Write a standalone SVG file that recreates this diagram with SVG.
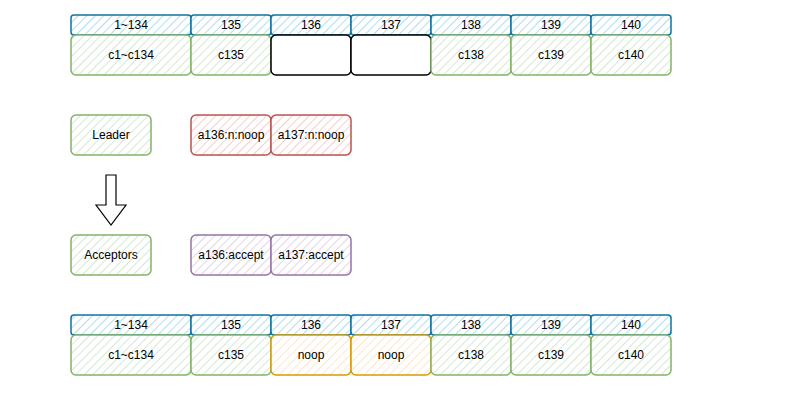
<svg xmlns="http://www.w3.org/2000/svg" width="794" height="406" viewBox="0 0 794 406">
<style>
text{font-family:"Liberation Sans",Arial,sans-serif;font-size:12px;fill:#000;text-anchor:middle;dominant-baseline:central}
rect{stroke-width:1.5}
.b{fill:url(#hb);stroke:#10739e}
.g{fill:url(#hg);stroke:#82b366}
.r{fill:url(#hr);stroke:#b85450}
.p{fill:url(#hp);stroke:#9673a6}
.o{fill:url(#ho);stroke:#d79b00}
.k{fill:#fff;stroke:#000}
</style>
<defs>
<pattern id="hb" width="6" height="6" patternUnits="userSpaceOnUse" patternTransform="rotate(45)"><rect width="6" height="6" fill="#fff" stroke="none"/><line x1="0" y1="0" x2="0" y2="6" stroke="#b1ddf0" stroke-width="2"/></pattern>
<pattern id="hg" width="6" height="6" patternUnits="userSpaceOnUse" patternTransform="rotate(45)"><rect width="6" height="6" fill="#fff" stroke="none"/><line x1="0" y1="0" x2="0" y2="6" stroke="#d5e8d4" stroke-width="2"/></pattern>
<pattern id="hr" width="6" height="6" patternUnits="userSpaceOnUse" patternTransform="rotate(45)"><rect width="6" height="6" fill="#fff" stroke="none"/><line x1="0" y1="0" x2="0" y2="6" stroke="#f8cecc" stroke-width="2"/></pattern>
<pattern id="hp" width="6" height="6" patternUnits="userSpaceOnUse" patternTransform="rotate(45)"><rect width="6" height="6" fill="#fff" stroke="none"/><line x1="0" y1="0" x2="0" y2="6" stroke="#e1d5e7" stroke-width="2"/></pattern>
<pattern id="ho" width="6" height="6" patternUnits="userSpaceOnUse" patternTransform="rotate(45)"><rect width="6" height="6" fill="#fff" stroke="none"/><line x1="0" y1="0" x2="0" y2="6" stroke="#ffe6cc" stroke-width="2"/></pattern>
</defs>
<g id="top-row">
<g id="t-h1"><rect class="b" x="71" y="15" width="120" height="20" rx="3"/><text x="131" y="25">1~134</text></g>
<g id="t-h2"><rect class="b" x="191" y="15" width="80" height="20" rx="3"/><text x="231" y="25">135</text></g>
<g id="t-h3"><rect class="b" x="271" y="15" width="80" height="20" rx="3"/><text x="311" y="25">136</text></g>
<g id="t-h4"><rect class="b" x="351" y="15" width="80" height="20" rx="3"/><text x="391" y="25">137</text></g>
<g id="t-h5"><rect class="b" x="431" y="15" width="80" height="20" rx="3"/><text x="471" y="25">138</text></g>
<g id="t-h6"><rect class="b" x="511" y="15" width="80" height="20" rx="3"/><text x="551" y="25">139</text></g>
<g id="t-h7"><rect class="b" x="591" y="15" width="80" height="20" rx="3"/><text x="631" y="25">140</text></g>
<g id="t-c1"><rect class="g" x="71" y="35" width="120" height="40" rx="5"/><text x="131" y="55">c1~c134</text></g>
<g id="t-c2"><rect class="g" x="191" y="35" width="80" height="40" rx="5"/><text x="231" y="55">c135</text></g>
<g id="t-c3"><rect class="k" x="271" y="35" width="80" height="40" rx="5"/></g>
<g id="t-c4"><rect class="k" x="351" y="35" width="80" height="40" rx="5"/></g>
<g id="t-c5"><rect class="g" x="431" y="35" width="80" height="40" rx="5"/><text x="471" y="55">c138</text></g>
<g id="t-c6"><rect class="g" x="511" y="35" width="80" height="40" rx="5"/><text x="551" y="55">c139</text></g>
<g id="t-c7"><rect class="g" x="591" y="35" width="80" height="40" rx="5"/><text x="631" y="55">c140</text></g>
</g>
<g id="leader"><rect class="g" x="71" y="115" width="80" height="40" rx="5"/><text x="111" y="135">Leader</text></g>
<g id="a136n"><rect class="r" x="191" y="115" width="80" height="40" rx="5"/><text x="231" y="135">a136:n:noop</text></g>
<g id="a137n"><rect class="r" x="271" y="115" width="80" height="40" rx="5"/><text x="311" y="135">a137:n:noop</text></g>
<g id="connectors">
<path d="M106,175 H116 V205 H126 L111,225 L96,205 H106 Z" fill="#fff" stroke="#000" stroke-width="1.2" stroke-linejoin="miter"/>
</g>
<g id="acceptors"><rect class="g" x="71" y="235" width="80" height="40" rx="5"/><text x="111" y="255">Acceptors</text></g>
<g id="a136a"><rect class="p" x="191" y="235" width="80" height="40" rx="5"/><text x="231" y="255">a136:accept</text></g>
<g id="a137a"><rect class="p" x="271" y="235" width="80" height="40" rx="5"/><text x="311" y="255">a137:accept</text></g>
<g id="bottom-row">
<g id="b-h1"><rect class="b" x="71" y="315" width="120" height="20" rx="3"/><text x="131" y="325">1~134</text></g>
<g id="b-h2"><rect class="b" x="191" y="315" width="80" height="20" rx="3"/><text x="231" y="325">135</text></g>
<g id="b-h3"><rect class="b" x="271" y="315" width="80" height="20" rx="3"/><text x="311" y="325">136</text></g>
<g id="b-h4"><rect class="b" x="351" y="315" width="80" height="20" rx="3"/><text x="391" y="325">137</text></g>
<g id="b-h5"><rect class="b" x="431" y="315" width="80" height="20" rx="3"/><text x="471" y="325">138</text></g>
<g id="b-h6"><rect class="b" x="511" y="315" width="80" height="20" rx="3"/><text x="551" y="325">139</text></g>
<g id="b-h7"><rect class="b" x="591" y="315" width="80" height="20" rx="3"/><text x="631" y="325">140</text></g>
<g id="b-c1"><rect class="g" x="71" y="335" width="120" height="40" rx="5"/><text x="131" y="355">c1~c134</text></g>
<g id="b-c2"><rect class="g" x="191" y="335" width="80" height="40" rx="5"/><text x="231" y="355">c135</text></g>
<g id="b-c3"><rect class="o" x="271" y="335" width="80" height="40" rx="5"/><text x="311" y="355">noop</text></g>
<g id="b-c4"><rect class="o" x="351" y="335" width="80" height="40" rx="5"/><text x="391" y="355">noop</text></g>
<g id="b-c5"><rect class="g" x="431" y="335" width="80" height="40" rx="5"/><text x="471" y="355">c138</text></g>
<g id="b-c6"><rect class="g" x="511" y="335" width="80" height="40" rx="5"/><text x="551" y="355">c139</text></g>
<g id="b-c7"><rect class="g" x="591" y="335" width="80" height="40" rx="5"/><text x="631" y="355">c140</text></g>
</g>
</svg>
